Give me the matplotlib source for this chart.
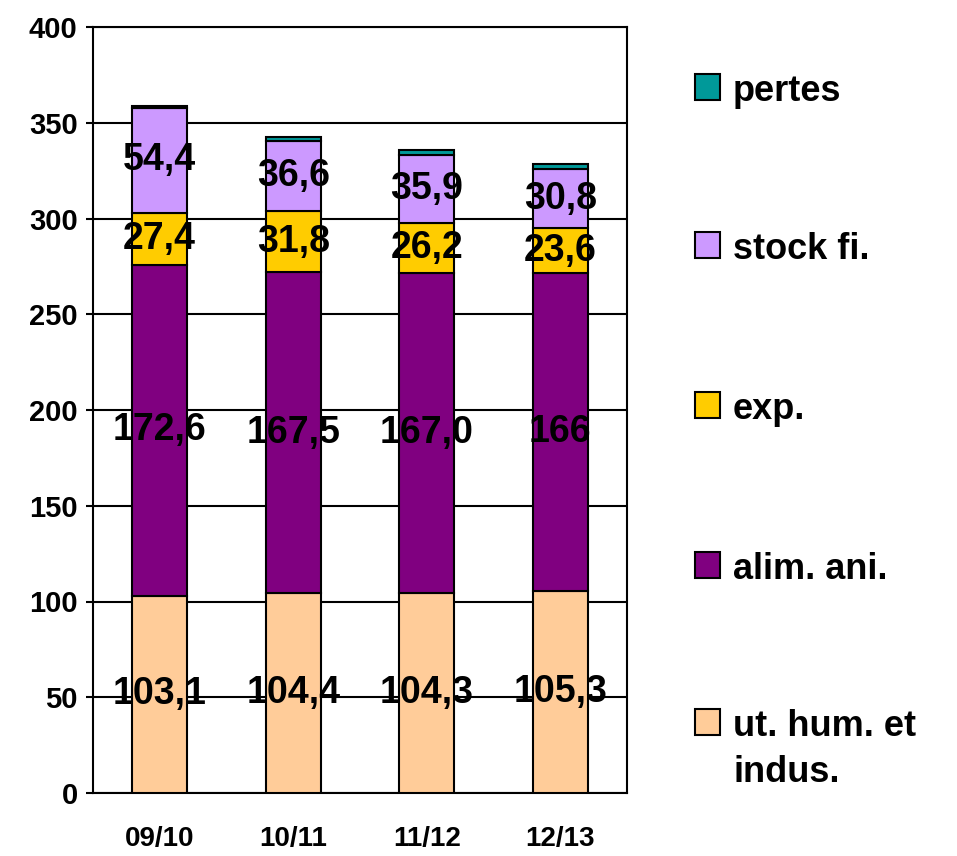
import matplotlib
matplotlib.use("Agg")
import matplotlib.pyplot as plt
from matplotlib.patches import Rectangle
import numpy as np

plt.rcParams['font.family'] = ['Liberation Sans', 'DejaVu Sans']

categories = ["09/10", "10/11", "11/12", "12/13"]
ut_hum = [103.1, 104.4, 104.3, 105.3]
alim_ani = [172.6, 167.5, 167.0, 166.0]
exp_ = [27.4, 31.8, 26.2, 23.6]
stock_fi = [54.4, 36.6, 35.9, 30.8]
pertes = [1.2, 2.5, 2.5, 2.5]

lab_ut = ["103,1", "104,4", "104,3", "105,3"]
lab_alim = ["172,6", "167,5", "167,0", "166"]
lab_exp = ["27,4", "31,8", "26,2", "23,6"]
lab_stock = ["54,4", "36,6", "35,9", "30,8"]

series = [
    ("ut. hum. et\nindus.", ut_hum, "#FFCC99", lab_ut),
    ("alim. ani.", alim_ani, "#800080", lab_alim),
    ("exp.", exp_, "#FFCC00", lab_exp),
    ("stock fi.", stock_fi, "#CC99FF", lab_stock),
    ("pertes", pertes, "#009999", None),
]

W, H = 957, 856
fig = plt.figure(figsize=(W/100, H/100), dpi=100)
ax = fig.add_axes([93/W, 1-793/H, (627-93)/W, (793-27)/H])

x = np.arange(len(categories))
bottom = np.zeros(len(categories))
for name, vals, col, labs in series:
    vals = np.array(vals)
    ax.bar(x, vals, 0.41, bottom=bottom, color=col, edgecolor="black", linewidth=1.5, zorder=3)
    if labs is not None:
        for xi, b, v, l in zip(x, bottom, vals, labs):
            ax.text(xi, b + v/2, l, ha="center", va="center", fontsize=27,
                    fontweight="bold", color="black", zorder=4)
    bottom = bottom + vals

ax.set_xlim(-0.5, 3.5)
ax.set_ylim(0, 400)
ax.set_yticks(np.arange(0, 401, 50))
ax.yaxis.grid(True, color="black", linewidth=1.5, zorder=0)
ax.set_axisbelow(True)
ax.set_xticks(x)
ax.set_xticklabels(categories, fontsize=20, fontweight="bold")
for lab in ax.get_yticklabels():
    lab.set_fontsize(21)
    lab.set_fontweight("bold")
ax.tick_params(axis="x", length=0, pad=24)
ax.tick_params(axis="y", length=5, width=1.5, direction="out", pad=6)
for s in ax.spines.values():
    s.set_linewidth(1.5)
    s.set_color("black")

# legend (manual placement, top entry first)
leg_y = [722, 565, 405, 245, 87]  # pixel centers of the first text line
for (name, vals, col, labs), yc in zip(series, leg_y):
    fig.add_artist(Rectangle((695/W, 1-(yc+13)/H), 25/W, 26/H, facecolor=col,
                             edgecolor="black", linewidth=1.5, transform=fig.transFigure))
    fig.text(733/W, 1-(yc-13)/H, name, ha="left", va="top", fontsize=26,
             fontweight="bold", linespacing=1.4)

fig.savefig("out.png", dpi=100)
